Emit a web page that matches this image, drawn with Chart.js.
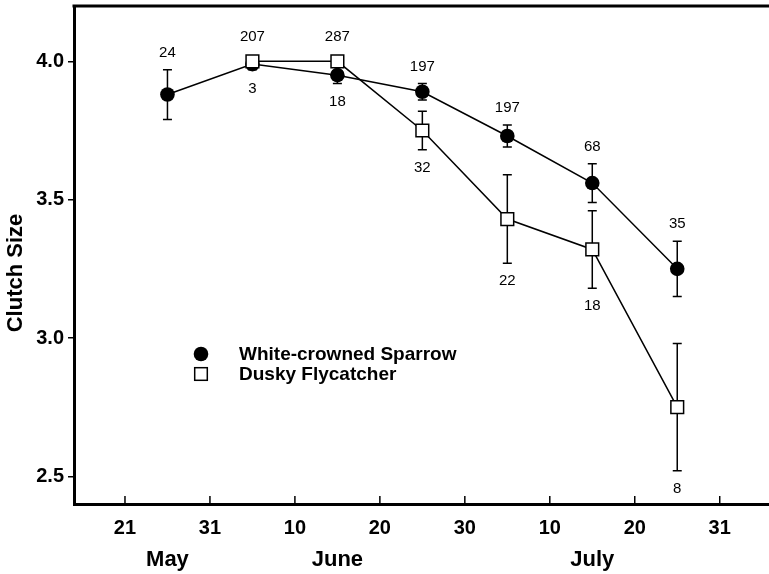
<!DOCTYPE html>
<html>
<head>
<meta charset="utf-8">
<title>Clutch Size</title>
<script src="https://cdn.jsdelivr.net/npm/chart.js@4.4.1/dist/chart.umd.min.js"></script>
<style>
  html, body { margin: 0; padding: 0; background: #fff; }
  #wrap { width: 769px; height: 574px; }
</style>
</head>
<body>
<div id="wrap"><canvas id="clutch" width="769" height="574"></canvas></div>
<script>
/* -----------------------
   Data
   ----------------------- */
// points sit halfway between the date ticks (26 May, 5 Jun, 15 Jun ...)
const positions = [0.5, 1.5, 2.5, 3.5, 4.5, 5.5, 6.5];

const sparrowMean = [3.88, 3.99, 3.95, 3.89, 3.73, 3.56, 3.25];
const sparrowErr  = [0.09, 0.02, 0.03, 0.03, 0.04, 0.07, 0.10];
const sparrowN    = [24, 207, 287, 197, 197, 68, 35];

const flyMean = [null, 4.00, 4.00, 3.75, 3.43, 3.32, 2.75];
const flyErr  = [null, 0, 0, 0.07, 0.16, 0.14, 0.23];
const flyN    = [null, 3, 18, 32, 22, 18, 8];

const dayTicks   = [0, 1, 2, 3, 4, 5, 6, 7];
const dayLabels  = ['21', '31', '10', '20', '30', '10', '20', '31'];
const monthTicks  = [0.5, 2.5, 5.5];
const monthLabels = ['May', 'June', 'July'];
const yTicks = [2.5, 3.0, 3.5, 4.0];

const FONT = "'Liberation Sans', Arial, Helvetica, sans-serif";

function toPoints(means){
  const pts = [];
  means.forEach((m, i) => { if(m != null) pts.push({x: positions[i], y: m}); });
  return pts;
}

// fixed axis box sizes so the frame lands where the scan has it
function fixBox(w, h){
  return s => {
    if(w != null) s.width = w;
    if(h != null) s.height = h;
    s.paddingTop = 0; s.paddingBottom = 0;
    s.paddingLeft = 0; s.paddingRight = 0;
  };
}

/* -----------------------
   Plugins: frame, inward ticks, error bars, sample sizes, legend, y title
   ----------------------- */
const framePlugin = {
  id: 'frame',
  beforeDatasetsDraw(chart){
    const {ctx, chartArea: a, scales: {x}} = chart;
    ctx.save();
    ctx.strokeStyle = '#000';
    ctx.lineWidth = 3;
    ctx.beginPath();
    ctx.moveTo(a.left - 1.5, a.top);
    ctx.lineTo(a.right, a.top);
    ctx.stroke();
    // x ticks point into the plot
    ctx.lineWidth = 1.5;
    dayTicks.forEach(v => {
      const px = x.getPixelForValue(v);
      ctx.beginPath();
      ctx.moveTo(px, a.bottom);
      ctx.lineTo(px, a.bottom - 8);
      ctx.stroke();
    });
    ctx.restore();
  }
};

const errorBarPlugin = {
  id: 'errorBars',
  beforeDatasetsDraw(chart){
    const {ctx, scales: {x, y}} = chart;
    const sets = [[sparrowMean, sparrowErr], [flyMean, flyErr]];
    ctx.save();
    ctx.strokeStyle = '#000';
    ctx.lineWidth = 1.5;
    sets.forEach(([means, errs]) => {
      means.forEach((m, i) => {
        if(m == null || !errs[i]) return;
        const px = x.getPixelForValue(positions[i]);
        const top = y.getPixelForValue(m + errs[i]);
        const bot = y.getPixelForValue(m - errs[i]);
        ctx.beginPath();
        ctx.moveTo(px, top); ctx.lineTo(px, bot);
        ctx.moveTo(px - 4.5, top); ctx.lineTo(px + 4.5, top);
        ctx.moveTo(px - 4.5, bot); ctx.lineTo(px + 4.5, bot);
        ctx.stroke();
      });
    });
    ctx.restore();
  }
};

const sampleSizePlugin = {
  id: 'sampleSizes',
  afterDatasetsDraw(chart){
    const {ctx, scales: {x, y}} = chart;
    ctx.save();
    ctx.fillStyle = '#000';
    ctx.font = '15px ' + FONT;
    ctx.textAlign = 'center';
    ctx.textBaseline = 'middle';
    positions.forEach((p, i) => {
      const px = x.getPixelForValue(p);
      // highest and lowest drawn thing at this date
      let hi = Infinity, lo = -Infinity;
      [[sparrowMean, sparrowErr], [flyMean, flyErr]].forEach(([m, e]) => {
        if(m[i] == null) return;
        const c = y.getPixelForValue(m[i]);
        hi = Math.min(hi, c - 7, y.getPixelForValue(m[i] + e[i]));
        lo = Math.max(lo, c + 7, y.getPixelForValue(m[i] - e[i]));
      });
      if(sparrowN[i] != null) ctx.fillText(String(sparrowN[i]), px, hi - 17);
      if(flyN[i] != null) ctx.fillText(String(flyN[i]), px, lo + 18);
    });
    ctx.restore();
  }
};

const legendPlugin = {
  id: 'insideLegend',
  afterDraw(chart){
    const {ctx, chartArea: a} = chart;
    const mx = a.left + 127, ty = a.top + 348, gap = 20;
    ctx.save();
    ctx.fillStyle = '#000';
    ctx.beginPath();
    ctx.arc(mx, ty, 7.3, 0, Math.PI * 2);
    ctx.fill();
    ctx.fillStyle = '#fff';
    ctx.strokeStyle = '#000';
    ctx.lineWidth = 1.5;
    ctx.fillRect(mx - 6.3, ty + gap - 6.3, 12.6, 12.6);
    ctx.strokeRect(mx - 6.3, ty + gap - 6.3, 12.6, 12.6);
    ctx.fillStyle = '#000';
    ctx.font = 'bold 19px ' + FONT;
    ctx.textAlign = 'left';
    ctx.textBaseline = 'middle';
    ctx.fillText('White-crowned Sparrow', mx + 38, ty + 1);
    ctx.fillText('Dusky Flycatcher', mx + 38, ty + gap + 1);
    ctx.restore();
  }
};

const yTitlePlugin = {
  id: 'yTitle',
  afterDraw(chart){
    const {ctx} = chart;
    ctx.save();
    ctx.translate(16, 273);
    ctx.rotate(-Math.PI / 2);
    ctx.fillStyle = '#000';
    ctx.font = 'bold 22px ' + FONT;
    ctx.textAlign = 'center';
    ctx.textBaseline = 'middle';
    ctx.fillText('Clutch Size', 0, 0);
    ctx.restore();
  }
};

/* -----------------------
   Chart
   ----------------------- */
const ctx = document.getElementById('clutch').getContext('2d');
new Chart(ctx, {
  type: 'line',
  data: {
    datasets: [
      {
        label: 'White-crowned Sparrow',
        data: toPoints(sparrowMean),
        borderColor: '#000',
        borderWidth: 1.5,
        pointStyle: 'circle',
        pointRadius: 7.3,
        pointBackgroundColor: '#000',
        pointBorderColor: '#000',
        pointBorderWidth: 0,
        tension: 0,
        order: 1
      },
      {
        label: 'Dusky Flycatcher',
        data: toPoints(flyMean),
        borderColor: '#000',
        borderWidth: 1.5,
        pointStyle: 'rect',
        pointRadius: 9,
        pointBackgroundColor: '#fff',
        pointBorderColor: '#000',
        pointBorderWidth: 1.5,
        tension: 0,
        order: 0
      }
    ]
  },
  options: {
    responsive: false,
    devicePixelRatio: 1,
    animation: false,
    // autoPadding reserves room for the point radius, which pushed the frame in
    layout: { autoPadding: false, padding: { top: 6, left: 0, right: 0, bottom: 0 } },
    plugins: { legend: { display: false }, tooltip: { enabled: false } },
    scales: {
      x: {
        type: 'linear',
        position: 'bottom',
        weight: 0,
        min: -0.6,
        max: 7.58,
        afterBuildTicks: s => { s.ticks = dayTicks.map(v => ({value: v})); },
        afterFit: fixBox(null, 31),
        grid: { display: true, drawOnChartArea: false, drawTicks: false },
        border: { display: true, color: '#000', width: 3 },
        ticks: {
          autoSkip: false, maxRotation: 0, padding: 12, color: '#000',
          font: { family: FONT, size: 20, weight: 'bold' },
          callback: v => dayLabels[dayTicks.indexOf(v)]
        }
      },
      month: {
        type: 'linear',
        position: 'bottom',
        weight: 1,
        min: -0.6,
        max: 7.58,
        afterBuildTicks: s => { s.ticks = monthTicks.map(v => ({value: v})); },
        afterFit: fixBox(null, 39),
        grid: { display: false },
        border: { display: false },
        ticks: {
          autoSkip: false, maxRotation: 0, padding: 4, color: '#000',
          font: { family: FONT, size: 22, weight: 'bold' },
          callback: v => monthLabels[monthTicks.indexOf(v)]
        }
      },
      y: {
        type: 'linear',
        min: 2.4,
        max: 4.2,
        afterBuildTicks: s => { s.ticks = yTicks.map(v => ({value: v})); },
        afterFit: fixBox(74, null),
        grid: { display: true, drawOnChartArea: false, drawTicks: true, tickLength: 6, color: '#000', lineWidth: 1.5 },
        border: { display: true, color: '#000', width: 3 },
        ticks: {
          padding: 4, color: '#000',
          font: { family: FONT, size: 20, weight: 'bold' },
          callback: v => v.toFixed(1)
        }
      }
    }
  },
  plugins: [framePlugin, errorBarPlugin, sampleSizePlugin, legendPlugin, yTitlePlugin]
});
</script>
</body>
</html>
